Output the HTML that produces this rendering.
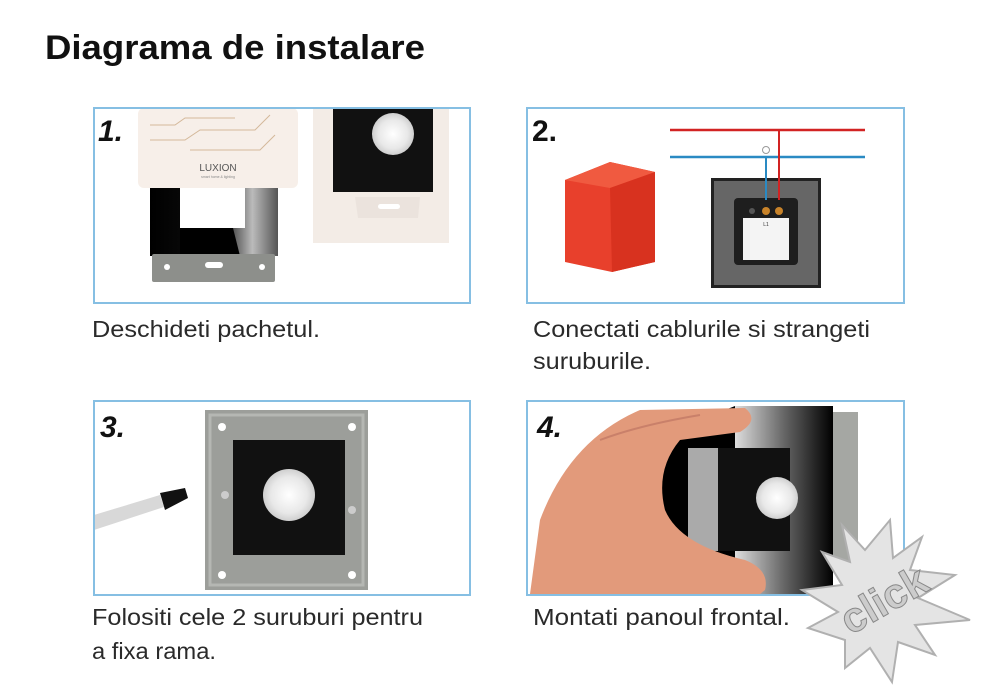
<!DOCTYPE html>
<html><head><meta charset="utf-8"><style>
html,body{margin:0;padding:0;background:#fff;width:1000px;height:698px;overflow:hidden}
svg{display:block}
text{font-family:"Liberation Sans",sans-serif}
.c{font-size:23px;fill:#2a2a2a}
</style></head><body>
<svg width="1000" height="698" viewBox="0 0 1000 698" xmlns="http://www.w3.org/2000/svg">
<defs>
<linearGradient id="gl" x1="0" x2="1"><stop offset="0" stop-color="#000"/><stop offset="0.55" stop-color="#111"/><stop offset="0.8" stop-color="#bbb"/><stop offset="1" stop-color="#555"/></linearGradient>
<linearGradient id="g4" x1="0" x2="1"><stop offset="0" stop-color="#ddd"/><stop offset="0.5" stop-color="#666"/><stop offset="1" stop-color="#000"/></linearGradient>
<radialGradient id="pir"><stop offset="0" stop-color="#fff"/><stop offset="0.7" stop-color="#e8e8e8"/><stop offset="1" stop-color="#cfcfcf"/></radialGradient>
</defs>
<text x="45" y="59" font-size="34" font-weight="bold" fill="#111" textLength="380" lengthAdjust="spacingAndGlyphs">Diagrama de instalare</text>

<!-- Box 1 -->
<g>
<rect x="150" y="188" width="128" height="68" fill="url(#gl)"/>
<rect x="180" y="188" width="65" height="40" fill="#fff"/>
<polygon points="180,228 233,228 240,256 180,256" fill="#000"/>
<rect x="152" y="254" width="123" height="28" rx="2" fill="#8d8f8b"/>
<circle cx="167" cy="267" r="3" fill="#fff"/><circle cx="262" cy="267" r="3" fill="#fff"/>
<rect x="205" y="262" width="18" height="6" rx="3" fill="#fff"/>
<rect x="138" y="108" width="160" height="80" rx="6" fill="#f7efe9"/>
<path d="M150 125 L175 125 L185 118 L235 118 M150 140 L185 140 L200 130 L255 130 L270 115 M190 150 L260 150 L275 135" stroke="#d4b89a" fill="none" stroke-width="1"/>
<text x="218" y="171" font-size="10" text-anchor="middle" fill="#555">LUXION</text>
<text x="218" y="178" font-size="3.5" text-anchor="middle" fill="#888">smart home &amp; lighting</text>
<rect x="313" y="108" width="136" height="135" fill="#f3ece6"/>
<rect x="333" y="108" width="100" height="84" fill="#111"/>
<circle cx="393" cy="134" r="21" fill="url(#pir)"/>
<path d="M355 197 L420 197 L418 218 L358 218 Z" fill="#ebe3dd"/>
<rect x="378" y="204" width="22" height="5" rx="2.5" fill="#fff"/>
<rect x="94" y="108" width="376" height="195" fill="none" stroke="#86bfe3" stroke-width="2"/>
<text x="98" y="141" font-size="30" font-weight="bold" font-style="italic" fill="#111">1.</text>
</g>
<text x="92" y="337" class="c" textLength="228" lengthAdjust="spacingAndGlyphs">Deschideti pachetul.</text>

<!-- Box 2 -->
<g>
<polygon points="565,180 610,162 655,172 655,262 612,272 565,262" fill="#e8402c"/>
<polygon points="565,180 610,162 655,172 610,188" fill="#f05a40"/>
<polygon points="610,188 655,172 655,262 612,272" fill="#d8321f"/>
<rect x="711" y="178" width="110" height="110" fill="#222"/>
<rect x="714" y="181" width="104" height="104" fill="#666"/>
<rect x="734" y="198" width="64" height="67" rx="4" fill="#1e1e1e"/>
<rect x="743" y="218" width="46" height="42" fill="#f4f4f4"/>
<text x="766" y="226" font-size="5" text-anchor="middle" fill="#333">L1</text>
<circle cx="766" cy="211" r="4" fill="#c8832a"/><circle cx="779" cy="211" r="4" fill="#c8832a"/><circle cx="752" cy="211" r="3" fill="#555"/>
<line x1="670" y1="130" x2="865" y2="130" stroke="#d22323" stroke-width="2.5"/>
<line x1="670" y1="157" x2="865" y2="157" stroke="#2a8ac3" stroke-width="2.5"/>
<line x1="779" y1="130" x2="779" y2="200" stroke="#d22323" stroke-width="2"/>
<line x1="766" y1="157" x2="766" y2="200" stroke="#2a8ac3" stroke-width="2"/>
<circle cx="766" cy="150" r="3.5" fill="#fff" stroke="#999"/>
<rect x="527" y="108" width="377" height="195" fill="none" stroke="#86bfe3" stroke-width="2"/>
<text x="532" y="141" font-size="30" font-weight="bold" fill="#111">2.</text>
</g>
<text x="533" y="337" class="c" textLength="337" lengthAdjust="spacingAndGlyphs">Conectati cablurile si strangeti</text>
<text x="533" y="369" class="c" textLength="118" lengthAdjust="spacingAndGlyphs">suruburile.</text>

<!-- Box 3 -->
<g>
<rect x="205" y="410" width="163" height="180" fill="#9c9e9a"/>
<rect x="210" y="415" width="153" height="170" fill="none" stroke="#b5b7b3" stroke-width="3"/>
<circle cx="222" cy="427" r="4" fill="#fff"/><circle cx="352" cy="427" r="4" fill="#fff"/><circle cx="222" cy="575" r="4" fill="#fff"/><circle cx="352" cy="575" r="4" fill="#fff"/>
<rect x="233" y="440" width="112" height="115" fill="#111"/>
<circle cx="289" cy="495" r="26" fill="url(#pir)"/>
<polygon points="94,515 160,495 164,507 94,530" fill="#d8d8d8"/>
<polygon points="160,493 185,488 188,498 165,510" fill="#111"/>
<circle cx="225" cy="495" r="4" fill="#ccc"/><circle cx="352" cy="510" r="4" fill="#ccc"/>
<rect x="94" y="401" width="376" height="194" fill="none" stroke="#86bfe3" stroke-width="2"/>
<text x="100" y="437" font-size="30" font-weight="bold" font-style="italic" fill="#111">3.</text>
</g>
<text x="92" y="625" class="c" textLength="331" lengthAdjust="spacingAndGlyphs">Folositi cele 2 suruburi pentru</text>
<text x="92" y="659" class="c" textLength="124" lengthAdjust="spacingAndGlyphs">a fixa rama.</text>

<!-- Box 4 -->
<g>
<rect x="833" y="412" width="25" height="150" fill="#a5a7a3"/>
<rect x="735" y="406" width="98" height="188" fill="url(#g4)"/>
<polygon points="650,440 735,406 735,594 660,594" fill="#000"/>
<rect x="688" y="448" width="102" height="103" fill="#111"/>
<rect x="688" y="448" width="30" height="103" fill="#aaa"/>
<circle cx="777" cy="498" r="21" fill="url(#pir)"/>
<path d="M530 594 L540 520 Q570 440 640 410 L745 408 Q760 420 740 432 L680 440 Q655 470 665 510 Q680 545 745 560 Q770 570 765 590 L760 594 Z" fill="#e29a7b"/>
<path d="M600 440 Q640 425 700 415" stroke="#c9806a" fill="none" stroke-width="2"/>
<rect x="527" y="401" width="377" height="194" fill="none" stroke="#86bfe3" stroke-width="2"/>
<text x="537" y="437" font-size="30" font-weight="bold" font-style="italic" fill="#111">4.</text>
</g>
<text x="533" y="625" class="c" textLength="257" lengthAdjust="spacingAndGlyphs">Montati panoul frontal.</text>
<polygon points="842,525 865,550 890,520 893,558 922,537 910,570 955,575 918,598 970,620 915,625 935,655 898,642 892,682 870,648 845,668 845,640 808,628 838,612 802,590 842,585 822,552 850,562" fill="#e4e4e4" stroke="#b0b0b0" stroke-width="2"/>
<text x="884" y="614" font-size="42" font-weight="bold" fill="#ccc" stroke="#888" stroke-width="1" text-anchor="middle" transform="rotate(-30 884 600)">click</text>
</svg>
</body></html>
